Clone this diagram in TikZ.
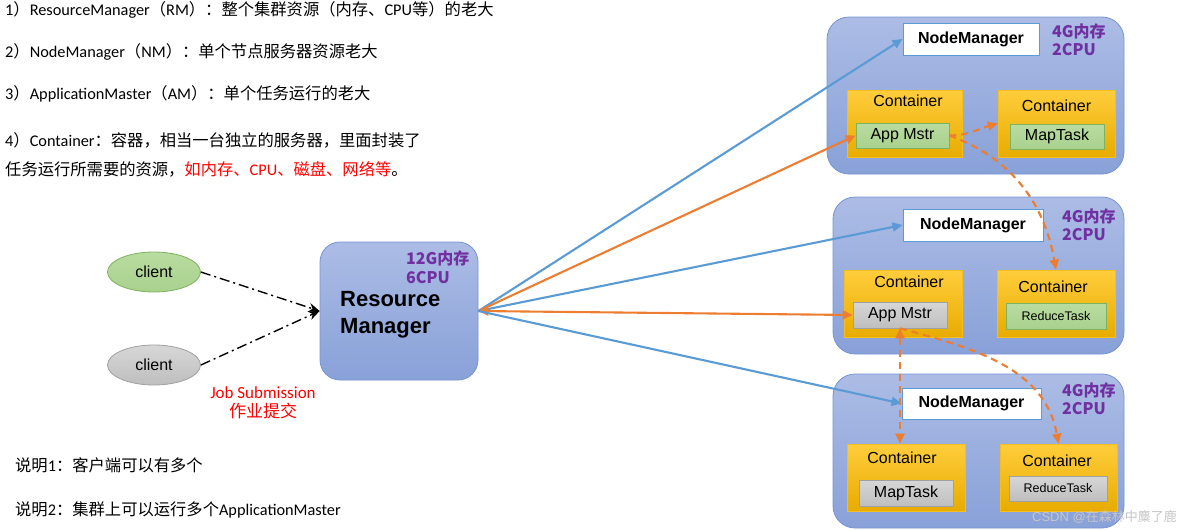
\documentclass[tikz,border=0pt]{standalone}
\usepackage{fontspec}
\setmainfont{Carlito}
\newfontfamily\cjk{Noto Sans CJK SC}
\newfontfamily\arial{Liberation Sans}
\usetikzlibrary{arrows.meta,shapes.geometric}
\definecolor{lineblue}{RGB}{91,155,213}
\definecolor{lineorange}{RGB}{237,125,49}
\definecolor{paneltop}{RGB}{172,188,229}
\definecolor{panelbot}{RGB}{136,161,216}
\definecolor{panelborder}{RGB}{118,148,212}
\definecolor{conttop}{RGB}{255,205,60}
\definecolor{contbot}{RGB}{232,172,0}
\definecolor{contborder}{RGB}{245,190,30}
\definecolor{gfill}{RGB}{169,209,142}
\definecolor{gtop}{RGB}{185,220,160}
\definecolor{gborder}{RGB}{125,178,95}
\definecolor{graytop}{RGB}{215,215,215}
\definecolor{graybot}{RGB}{190,190,190}
\definecolor{grayborder}{RGB}{160,160,160}
\definecolor{purp}{RGB}{112,48,160}
\definecolor{nmborder}{RGB}{91,155,213}
\tikzset{
  txt/.style={anchor=west, inner sep=0pt, font=\fontsize{16.3}{18}\selectfont},
  panel/.style={draw=panelborder, line width=0.8pt, rounded corners=22pt, top color=paneltop, bottom color=panelbot, inner sep=0pt},
  rmbox/.style={draw=panelborder, line width=0.8pt, rounded corners=20pt, top color=paneltop, bottom color=panelbot, inner sep=0pt},
  nmbox/.style={draw=nmborder, fill=white, line width=1pt, inner sep=0pt, font=\arial\bfseries\fontsize{16}{18}\selectfont},
  contbox/.style={draw=contborder, line width=0.6pt, top color=conttop, bottom color=contbot, inner sep=0pt},
  contlabel/.style={inner sep=0pt, font=\arial\fontsize{16}{18}\selectfont},
  greenbox/.style={draw=gborder, line width=0.7pt, top color=gtop, bottom color=gfill, inner sep=0pt, font=\arial\fontsize{16}{18}\selectfont},
  graybox/.style={draw=grayborder, line width=0.7pt, top color=graytop, bottom color=graybot, inner sep=0pt, font=\arial\fontsize{16}{18}\selectfont},
  purptext/.style={anchor=west, inner sep=0pt, align=left, text=purp, font=\cjk\bfseries\fontsize{16}{18}\selectfont},
  clientshape/.style={ellipse, line width=0.8pt, minimum width=93pt, minimum height=40pt, inner sep=0pt, font=\arial\fontsize{16}{18}\selectfont},
  bluearrow/.style={draw=lineblue, line width=2.1pt, -{Triangle[length=10pt,width=9pt]}},
  orangearrow/.style={draw=lineorange, line width=2.1pt, -{Triangle[length=10pt,width=9pt]}},
  orangedash/.style={draw=lineorange, line width=2.1pt, dash pattern=on 7pt off 5pt, -{Triangle[length=10pt,width=9pt]}},
  submitline/.style={draw=black, line width=1.4pt, dash pattern=on 10pt off 4pt on 2pt off 4pt, -{Stealth[length=11pt,width=9pt]}}
}
\begin{document}
\begin{tikzpicture}[x=1pt,y=-1pt]
\useasboundingbox (0,0) rectangle (1184,530);

% left descriptive text
\node[txt] (t1) at (5,10) {1{\cjk ）}ResourceManager{\cjk （}RM{\cjk ）：整个集群资源（内存、}CPU{\cjk 等）的老大}};
\node[txt] (t2) at (5,52) {2{\cjk ）}NodeManager{\cjk （}NM{\cjk ）：单个节点服务器资源老大}};
\node[txt] (t3) at (5,94) {3{\cjk ）}ApplicationMaster{\cjk （}AM{\cjk ）：单个任务运行的老大}};
\node[txt] (t4) at (5,140) {4{\cjk ）}Container{\cjk ：容器，相当一台独立的服务器，里面封装了}};
\node[txt] (t5) at (5,169) {{\cjk 任务运行所需要的资源，}\textcolor{red}{{\cjk 如内存、}CPU{\cjk 、磁盘、网络等}}{\cjk 。}};
\node[txt] (n1) at (15,465) {{\cjk 说明}1{\cjk ：客户端可以有多个}};
\node[txt] (n2) at (15,510) {{\cjk 说明}2{\cjk ：集群上可以运行多个}ApplicationMaster};

% clients
\node[clientshape, draw=gborder, top color=gtop, bottom color=gfill] (cl1) at (154,272) {client};
\node[clientshape, draw=grayborder, top color=graytop, bottom color=graybot] (cl2) at (154,365) {client};
\node[inner sep=0pt, text=red, font=\fontsize{17}{19}\selectfont, align=center] (job) at (263,403) {Job Submission\\{\cjk 作业提交}};

% resource manager
\node[rmbox, minimum width=158pt, minimum height=138pt] (RM) at (399,311) {};
\node[anchor=west, inner sep=0pt, align=left, font=\arial\bfseries\fontsize{22}{27}\selectfont] (RMt) at (340,314.5) {Resource\\Manager};
\node[purptext, font=\cjk\bfseries\fontsize{16}{19}\selectfont] (RMr) at (406,267) {12G内存\\6CPU};

% panels
\node[panel, minimum width=297pt, minimum height=157pt] (P1) at (975.5,95.5) {};
\node[panel, minimum width=291pt, minimum height=157pt] (P2) at (978.5,275.5) {};
\node[panel, minimum width=291pt, minimum height=154pt] (P3) at (978.5,451) {};

% node managers
\node[nmbox, minimum width=136pt, minimum height=32pt] (NM1) at (971,39) {NodeManager};
\node[nmbox, minimum width=140pt, minimum height=32pt] (NM2) at (973,225) {NodeManager};
\node[nmbox, minimum width=139pt, minimum height=31pt] (NM3) at (971.5,403.5) {NodeManager};
\node[purptext] (R1) at (1052,40) {4G内存\\2CPU};
\node[purptext] (R2) at (1062,225) {4G内存\\2CPU};
\node[purptext] (R3) at (1062,399) {4G内存\\2CPU};

% containers panel 1
\node[contbox, minimum width=115pt, minimum height=67pt] (C1a) at (904.5,123.5) {};
\node[contbox, minimum width=117pt, minimum height=67pt] (C1b) at (1056.5,123.5) {};
\node[contlabel] (C1al) at (908,101) {Container};
\node[contlabel] (C1bl) at (1056.5,106) {Container};
\node[greenbox, minimum width=93pt, minimum height=25pt] (AM1) at (902.5,135.5) {App Mstr};
\node[greenbox, minimum width=94pt, minimum height=25pt] (MT1) at (1057,136.5) {MapTask};

% containers panel 2
\node[contbox, minimum width=118pt, minimum height=67pt] (C2a) at (903,303.5) {};
\node[contbox, minimum width=118pt, minimum height=67pt] (C2b) at (1056,303.5) {};
\node[contlabel] (C2al) at (909,282) {Container};
\node[contlabel] (C2bl) at (1053,287) {Container};
\node[graybox, minimum width=94pt, minimum height=26pt] (AM2) at (900,315) {App Mstr};
\node[greenbox, minimum width=100pt, minimum height=26pt, font=\arial\fontsize{12.5}{14}\selectfont] (RT2) at (1056,316) {ReduceTask};

% containers panel 3
\node[contbox, minimum width=118pt, minimum height=67pt] (C3a) at (906,477.5) {};
\node[contbox, minimum width=117pt, minimum height=67pt] (C3b) at (1058.5,477.5) {};
\node[contlabel] (C3al) at (902,458) {Container};
\node[contlabel] (C3bl) at (1057,461) {Container};
\node[graybox, minimum width=94pt, minimum height=26pt] (MT3) at (906,493) {MapTask};
\node[graybox, minimum width=98pt, minimum height=25pt, font=\arial\fontsize{12.5}{14}\selectfont] (RT3) at (1058,488.5) {ReduceTask};

% watermark
\node[anchor=east, inner sep=0pt, text=gray!45, font=\arial\fontsize{13}{15}\selectfont] (wm) at (1177,517) {CSDN @{\cjk 在森林中麋了鹿}};

% job submission lines
\draw[submitline] (cl1.east) -- (RM.west);
\draw[submitline] (cl2.east) -- (RM.west);

% RM connectors
\draw[bluearrow] (RM.east) -- (NM1.west);
\draw[orangearrow] (RM.east) -- (AM1.west);
\draw[bluearrow] (RM.east) -- (NM2.west);
\draw[orangearrow, {Triangle[length=10pt,width=9pt]}-{Triangle[length=10pt,width=9pt]}] (RM.east) -- (AM2.west);
\draw[bluearrow] (RM.east) -- (NM3.west);

% dashed orange connectors
\draw[orangedash] (AM1.east) to[out=0,in=195] (C1b.west);
\draw[orangedash] (AM1.east) to[out=-20,in=100] (C2b.north);
\draw[orangedash, {Triangle[length=10pt,width=9pt]}-{Triangle[length=10pt,width=9pt]}] (AM2.south) -- (AM2.south |- C3a.north);
\draw[orangedash] (AM2.south) to[out=-15,in=100] (C3b.north);
\end{tikzpicture}
\end{document}
